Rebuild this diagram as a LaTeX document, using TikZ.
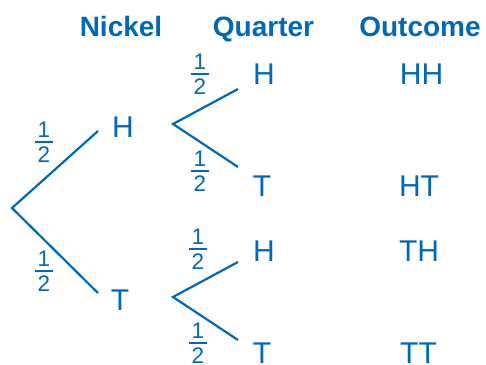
\documentclass[tikz,border=0pt]{standalone}
\usepackage{fontspec}
\setmainfont{Liberation Sans}
\definecolor{tblue}{RGB}{0,104,180}
\newcommand\FracHalf{\vbox{\offinterlineskip\hbox to 17.5pt{\hss 1\hss}\kern3.8pt\hrule height 1.6pt\kern3.8pt\hbox to 17.5pt{\hss 2\hss}}}
\tikzset{
  head/.style={text=tblue, font=\bfseries\fontsize{28}{30}\selectfont, inner sep=0pt, anchor=base},
  lbl/.style={text=tblue, font=\fontsize{30}{32}\selectfont, inner sep=0pt, anchor=base},
  half/.style={text=tblue, font=\fontsize{22.5}{25}\selectfont, inner sep=0pt},
  branch/.style={draw=tblue, line width=2.2pt, line join=miter}
}
\begin{document}
\begin{tikzpicture}[x=1pt,y=-1pt]
\useasboundingbox (0,0) rectangle (486,364);
% headings
\node[head] (hN) at (121,36) {Nickel};
\node[head] (hQ) at (263.5,36) {Quarter};
\node[head] (hO) at (420,36) {Outcome};
% nickel outcomes
\node[lbl] (nH) at (123,137) {H};
\node[lbl] (nT) at (120,310) {T};
% quarter outcomes
\node[lbl] (qHH) at (264,84) {H};
\node[lbl] (qHT) at (262,196) {T};
\node[lbl] (qTH) at (264,261) {H};
\node[lbl] (qTT) at (262,363.5) {T};
% outcomes column
\node[lbl] (oHH) at (421.5,84) {HH};
\node[lbl] (oHT) at (419,196) {HT};
\node[lbl] (oTH) at (419,261) {TH};
\node[lbl] (oTT) at (418.5,363.5) {TT};
% probabilities
\node[half] (f1) at (44,142) {\FracHalf};
\node[half] (f2) at (44,271) {\FracHalf};
\node[half] (f3) at (200,74) {\FracHalf};
\node[half] (f4) at (200,171) {\FracHalf};
\node[half] (f5) at (198,249) {\FracHalf};
\node[half] (f6) at (198,343) {\FracHalf};
% branch points
\coordinate (root) at (12,208);
\coordinate (nHin) at (98,131);
\coordinate (nTin) at (98,293);
\coordinate (qHv) at (173,124);
\coordinate (qHa) at (238,89);
\coordinate (qHb) at (238,167);
\coordinate (qTv) at (173,297);
\coordinate (qTa) at (238,262);
\coordinate (qTb) at (238,340);
% branches
\draw[branch] (nHin) -- (root) -- (nTin);
\draw[branch] (qHa) -- (qHv) -- (qHb);
\draw[branch] (qTa) -- (qTv) -- (qTb);
\end{tikzpicture}
\end{document}
